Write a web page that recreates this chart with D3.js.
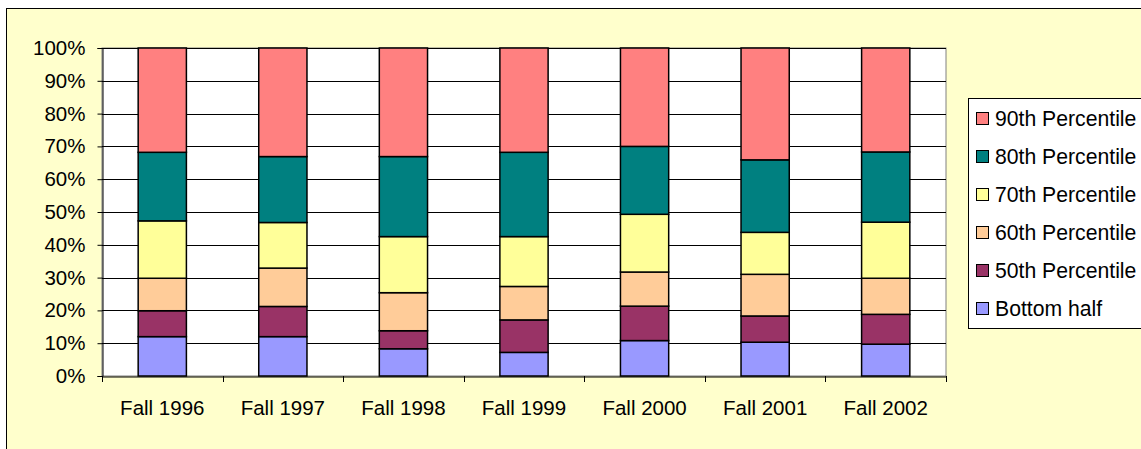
<!DOCTYPE html>
<html><head><meta charset="utf-8">
<script src="https://cdn.jsdelivr.net/npm/d3@7/dist/d3.min.js"></script>
<style>body{margin:0;background:#fff;}svg{display:block;font-family:Arial,"Liberation Sans",sans-serif;}</style>
</head><body>
<script>
const categories = ["Fall 1996","Fall 1997","Fall 1998","Fall 1999","Fall 2000","Fall 2001","Fall 2002"];
const seriesNames = ["Bottom half","50th Percentile","60th Percentile","70th Percentile","80th Percentile","90th Percentile"];
const bottomHalf = [12.0, 12.0, 8.3, 7.2, 10.8, 10.3, 9.7];
const p50 = [7.9, 9.2, 5.5, 9.9, 10.5, 8.0, 9.1];
const p60 = [9.9, 11.7, 11.6, 10.2, 10.4, 12.7, 11.0];
const p70 = [17.5, 13.9, 17.1, 15.2, 17.6, 12.8, 17.1];
const p80 = [20.9, 20.1, 24.4, 25.7, 20.7, 22.1, 21.4];
const p90 = [31.8, 33.1, 33.1, 31.8, 30.0, 34.1, 31.7];
const seriesColors = ["#9999FF","#993366","#FFCC99","#FFFF99","#008080","#FF8080"];
const yTicks = [0,0.1,0.2,0.3,0.4,0.5,0.6,0.7,0.8,0.9,1.0];

(function(){
const W = 1141, H = 449;
const svg = d3.select("body").append("svg").attr("width", W).attr("height", H);
svg.append("rect").attr("x",6.5).attr("y",8.5).attr("width",W+20).attr("height",H+20)
  .attr("fill","#FFFFCC").attr("stroke","#000").attr("stroke-width",1);

const pl = 102, pr = 946, pt = 48, pb = 376;
const x = d3.scaleBand().domain(categories).range([pl,pr]).paddingInner(0.6).paddingOuter(0.3);
const xOuter = d3.scaleBand().domain(categories).range([pl,pr]);
const y = d3.scaleLinear().domain([0,1]).range([pb,pt]);

svg.append("rect").attr("x",pl).attr("y",pt).attr("width",pr-pl).attr("height",pb-pt)
  .attr("fill","#fff").attr("stroke","#808080").attr("stroke-width",1);
svg.append("g").selectAll("line").data(yTicks.filter(t=>t>0)).join("line")
  .attr("x1",pl).attr("x2",pr).attr("y1",d=>Math.round(y(d))+0.5).attr("y2",d=>Math.round(y(d))+0.5)
  .attr("stroke","#000").attr("stroke-width",1);

const series = [bottomHalf,p50,p60,p70,p80,p90];
const rows = categories.map((c,i)=>{const r={cat:c}; seriesNames.forEach((s,j)=>r[s]=series[j][i]); return r;});
const stacked = d3.stack().keys(seriesNames).offset(d3.stackOffsetExpand)(rows);

svg.append("g").selectAll("g").data(stacked).join("g")
  .attr("fill",(d,i)=>seriesColors[i])
  .selectAll("rect").data(d=>d).join("rect")
  .attr("x",d=>x(d.data.cat)).attr("width",x.bandwidth())
  .attr("y",d=>y(d[1])).attr("height",d=>y(d[0])-y(d[1]))
  .attr("stroke","#000").attr("stroke-width",1.5);

const yAxis = d3.axisLeft(y).tickValues(yTicks).tickFormat(d3.format(".0%")).tickSize(5).tickPadding(12);
const gy = svg.append("g").attr("transform",`translate(${pl+0.5},0)`).call(yAxis);
gy.select(".domain").attr("stroke","#000");
gy.selectAll("text").attr("font-size",20.5).attr("fill","#000").attr("font-family","Arial, 'Liberation Sans', sans-serif");

const xAxis = d3.axisBottom(xOuter).tickSize(0).tickPadding(24);
const gx = svg.append("g").attr("transform",`translate(0,${pb+0.5})`).call(xAxis);
gx.select(".domain").attr("stroke","#000");
gx.selectAll("text").attr("font-size",20.5).attr("fill","#000").attr("font-family","Arial, 'Liberation Sans', sans-serif");
svg.append("g").selectAll("line").data(categories.map(c=>xOuter(c)).concat([pr])).join("line")
  .attr("x1",d=>Math.round(d)+0.5).attr("x2",d=>Math.round(d)+0.5)
  .attr("y1",pb).attr("y2",pb+6).attr("stroke","#000");

const lg = svg.append("g");
lg.append("rect").attr("x",968.5).attr("y",98.5).attr("width",200).attr("height",230)
  .attr("fill","#fff").attr("stroke","#000");
const legendOrder = seriesNames.map((s,i)=>({name:s,color:seriesColors[i]})).reverse();
const li = lg.selectAll("g.item").data(legendOrder).join("g").attr("class","item")
  .attr("transform",(d,i)=>`translate(976,${119 + i*38})`);
li.append("rect").attr("x",0.5).attr("y",-6.5).attr("width",12).attr("height",12)
  .attr("fill",d=>d.color).attr("stroke","#000").attr("stroke-width",1);
li.append("text").attr("x",19).attr("y",7).attr("font-size",21.2).attr("fill","#000").text(d=>d.name);
})();
</script>
</body></html>
